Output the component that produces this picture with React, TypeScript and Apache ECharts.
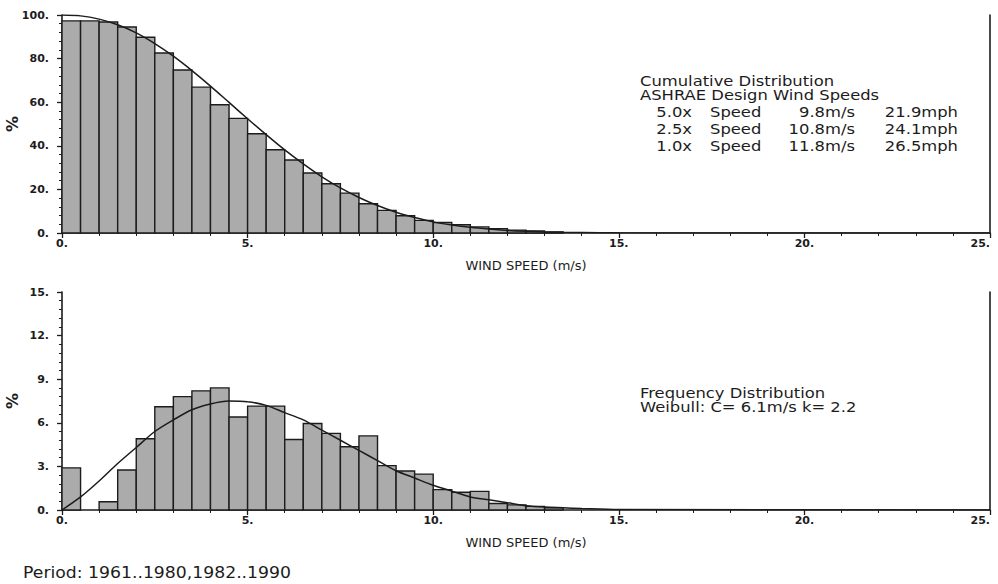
import React, { useEffect, useRef } from "react";
import * as echarts from "echarts";

// Bin width of the histograms (m/s)
const BIN_WIDTH = 0.5;

// Cumulative distribution (% of time wind speed >= bin), bins 0-0.5, 0.5-1, ...
const CUM_BARS = [
  97.3, 97.3, 96.8, 94.5, 89.8, 82.6, 74.8, 66.9, 58.8, 52.6,
  45.5, 38.2, 33.5, 27.5, 22.6, 18.3, 13.4, 10.4, 7.9, 5.8,
  4.8, 3.8, 2.8, 2.0, 1.3, 0.9, 0.5,
];

// Frequency distribution (% of time in bin)
const FREQ_BARS = [
  2.9, 0, 0.57, 2.75, 4.9, 7.1, 7.8, 8.2, 8.4, 6.4,
  7.15, 7.15, 4.85, 5.95, 5.27, 4.35, 5.1, 3.05, 2.68, 2.47,
  1.4, 1.22, 1.28, 0.45, 0.35, 0.25, 0.15,
];

// Fitted Weibull curves, read at these speeds (m/s)
const CURVE_SPEEDS = [
  0, 0.5, 1, 1.5, 2, 2.5, 3, 3.5, 4, 4.5, 5, 5.5, 6, 6.5, 7, 7.5, 8, 8.5,
  9, 9.5, 10, 10.5, 11, 11.5, 12, 12.5, 13, 13.5, 14, 15, 25,
];
const CUM_CURVE = [
  100, 99.6, 98.1, 95.5, 91.8, 86.9, 81.1, 74.5, 67.4, 59.9, 52.4, 45.1,
  38.1, 31.7, 25.8, 20.7, 16.3, 12.6, 9.5, 7.1, 5.1, 3.7, 2.6, 1.8, 1.2,
  0.8, 0.5, 0.3, 0.2, 0.1, 0,
];
const FREQ_CURVE = [
  0, 0.9, 2.0, 3.2, 4.3, 5.4, 6.2, 6.9, 7.3, 7.5, 7.45, 7.2, 6.7, 6.2, 5.5,
  4.8, 4.1, 3.4, 2.7, 2.2, 1.7, 1.3, 0.9, 0.7, 0.5, 0.3, 0.2, 0.15, 0.1,
  0.03, 0,
];

// Axis settings
const X_MIN = 0;
const X_MAX = 25;
const X_INTERVAL = 5;
const CUM_Y_MAX = 100;
const CUM_Y_INTERVAL = 20;
const FREQ_Y_MAX = 15;
const FREQ_Y_INTERVAL = 3;

// Text
const X_NAME = "WIND SPEED (m/s)";
const Y_NAME = "%";
const CUM_TITLE = ["Cumulative Distribution", "ASHRAE Design Wind Speeds"];
const DESIGN_PCT = ["5.0x", "2.5x", "1.0x"];
const DESIGN_MS = ["9.8m/s", "10.8m/s", "11.8m/s"];
const DESIGN_MPH = ["21.9mph", "24.1mph", "26.5mph"];
const FREQ_TITLE = ["Frequency Distribution", "Weibull: C= 6.1m/s k= 2.2"];
const PERIOD = "Period: 1961..1980,1982..1990";

const FONT = "DejaVu Sans";
const INK = "#1c1c1c";

export default function App() {
  const ref = useRef<HTMLDivElement>(null);

  useEffect(() => {
    if (!ref.current) return;
    const chart = echarts.init(ref.current, null, { renderer: "svg" });

    const barData = (vals: number[]) =>
      vals.map((v, i) => [i * BIN_WIDTH, (i + 1) * BIN_WIDTH, v]);

    const renderBar = (params: any, api: any) => {
      const x0 = api.value(0);
      const x1 = api.value(1);
      const y = api.value(2);
      if (!y) return null;
      const p0 = api.coord([x0, y]);
      const p1 = api.coord([x1, 0]);
      return {
        type: "rect",
        shape: { x: p0[0], y: p0[1], width: p1[0] - p0[0], height: p1[1] - p0[1] },
        style: { fill: "#ababab", stroke: INK, lineWidth: 1.4 },
      };
    };

    const xAxisCommon = (gridIndex: number) => ({
      type: "value",
      gridIndex,
      min: X_MIN,
      max: X_MAX,
      interval: X_INTERVAL,
      name: X_NAME,
      nameLocation: "middle",
      nameGap: 26,
      nameTextStyle: { fontFamily: FONT, fontSize: 13, color: INK },
      axisLine: { show: true, onZero: false, lineStyle: { color: INK, width: 1.6 } },
      axisTick: { show: true, length: 5, lineStyle: { color: INK, width: 1.3 } },
      minorTick: { show: true, splitNumber: 5, length: 3, lineStyle: { color: INK } },
      splitLine: { show: false },
      axisLabel: {
        formatter: (v: number) => `${v}.`,
        fontFamily: FONT,
        fontSize: 11,
        fontWeight: "bold",
        color: INK,
        margin: 5,
        alignMaxLabel: "right",
      },
    });

    const yAxisCommon = (gridIndex: number, max: number, interval: number) => ({
      type: "value",
      gridIndex,
      min: 0,
      max,
      interval,
      name: Y_NAME,
      nameLocation: "middle",
      nameGap: 42,
      nameRotate: 90,
      nameMoveOverlap: false,
      nameTextStyle: { fontFamily: FONT, fontSize: 16, fontWeight: "bold", color: INK },
      axisLine: { show: true, lineStyle: { color: INK, width: 1.6 } },
      axisTick: { show: true, length: 5, lineStyle: { color: INK, width: 1.3 } },
      minorTick: { show: true, splitNumber: 5, length: 3, lineStyle: { color: INK } },
      splitLine: { show: false },
      axisLabel: {
        formatter: (v: number) => `${v}.`,
        fontFamily: FONT,
        fontSize: 11,
        fontWeight: "bold",
        color: INK,
        margin: 13,
      },
    });

    const rightBorder = (gridIndex: number, max: number) => ({
      type: "value",
      gridIndex,
      position: "right",
      min: 0,
      max,
      axisLine: { show: true, lineStyle: { color: INK, width: 1.6 } },
      axisTick: { show: false },
      axisLabel: { show: false },
      splitLine: { show: false },
    });

    const SX = 1.17;
    const textStyle = { fontFamily: FONT, fontSize: 14, fill: INK };
    const txt = (x: number, y: number, text: string, align = "left") => ({
      type: "text",
      x,
      y,
      scaleX: SX,
      style: { ...textStyle, text, textAlign: align },
    });
    const graphics: any[] = [];
    CUM_TITLE.forEach((t, i) => graphics.push(txt(640, 74 + i * 14, t)));
    DESIGN_PCT.forEach((t, i) => {
      const y = 105 + i * 17;
      graphics.push(txt(692, y, t, "right"));
      graphics.push(txt(710, y, "Speed"));
      graphics.push(txt(855, y, DESIGN_MS[i], "right"));
      graphics.push(txt(958, y, DESIGN_MPH[i], "right"));
    });
    FREQ_TITLE.forEach((t, i) => graphics.push(txt(640, 386 + i * 14, t)));
    graphics.push({
      type: "text",
      x: 23,
      y: 565,
      scaleX: 1.15,
      style: { ...textStyle, fontSize: 15, text: PERIOD },
    });

    chart.setOption({
      animation: false,
      backgroundColor: "#ffffff",
      grid: [
        { left: 62, right: 8, top: 15, height: 218, outerBoundsMode: "none", containLabel: false },
        { left: 62, right: 8, top: 292, height: 218, outerBoundsMode: "none", containLabel: false },
      ],
      xAxis: [xAxisCommon(0), xAxisCommon(1)],
      yAxis: [
        yAxisCommon(0, CUM_Y_MAX, CUM_Y_INTERVAL),
        yAxisCommon(1, FREQ_Y_MAX, FREQ_Y_INTERVAL),
        rightBorder(0, CUM_Y_MAX),
        rightBorder(1, FREQ_Y_MAX),
      ],
      series: [
        {
          type: "custom",
          xAxisIndex: 0,
          yAxisIndex: 0,
          renderItem: renderBar,
          encode: { x: [0, 1], y: 2 },
          data: barData(CUM_BARS),
          z: 2,
        },
        {
          type: "line",
          xAxisIndex: 0,
          yAxisIndex: 0,
          data: CURVE_SPEEDS.map((s, i) => [s, CUM_CURVE[i]]),
          smooth: 0.3,
          showSymbol: false,
          lineStyle: { color: INK, width: 1.5 },
          z: 3,
        },
        {
          type: "custom",
          xAxisIndex: 1,
          yAxisIndex: 1,
          renderItem: renderBar,
          encode: { x: [0, 1], y: 2 },
          data: barData(FREQ_BARS),
          z: 2,
        },
        {
          type: "line",
          xAxisIndex: 1,
          yAxisIndex: 1,
          data: CURVE_SPEEDS.map((s, i) => [s, FREQ_CURVE[i]]),
          smooth: 0.3,
          showSymbol: false,
          lineStyle: { color: INK, width: 1.5 },
          z: 3,
        },
      ],
      graphic: graphics,
    });

    return () => chart.dispose();
  }, []);

  return (
    <div
      ref={ref}
      style={{ position: "fixed", left: 0, top: 0, width: 998, height: 584, background: "#fff" }}
    />
  );
}
